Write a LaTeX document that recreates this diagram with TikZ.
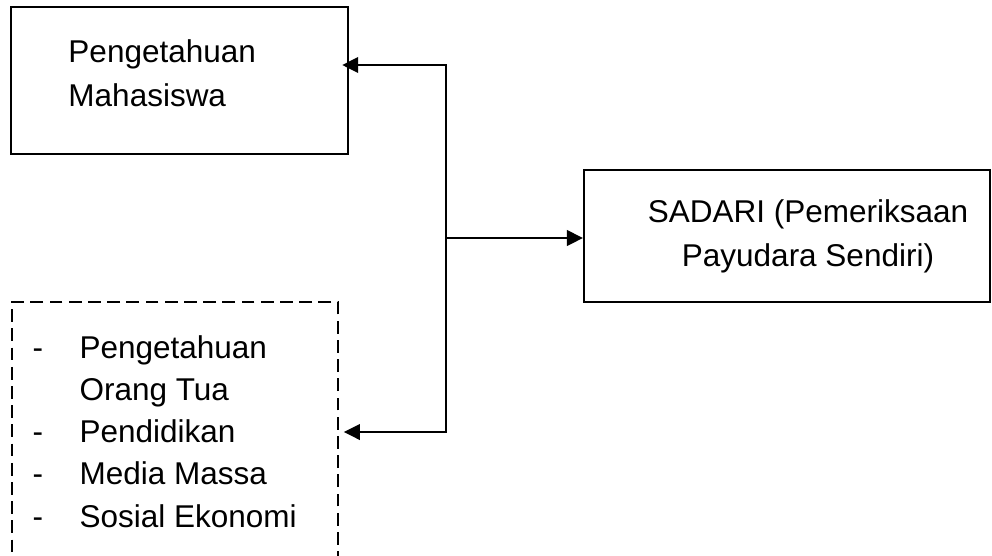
\documentclass[tikz,border=0pt]{standalone}
\usepackage{fontspec}
\setmainfont{Liberation Sans}
\usetikzlibrary{arrows.meta}

\begin{document}
\begin{tikzpicture}[x=0.025cm,y=-0.025cm,>={Triangle[length=4mm,width=3.9mm]},line width=1.4pt,
  box/.style={draw,rectangle,inner sep=0pt},
  txt/.style={font=\fontsize{22.4}{30.6}\selectfont,inner sep=0pt}]
\useasboundingbox (0,0) rectangle (992,555);
% frames
\node[box,minimum width=8.425cm,minimum height=3.675cm] (mhs) at (179.5,80.5) {};
\node[box,minimum width=10.15cm,minimum height=3.3cm] (sadari) at (787,236) {};
\node[box,dash pattern=on 3.2mm off 1.6mm,minimum width=8.15cm,minimum height=8cm,anchor=north west] (faktor) at (11,301) {};
% texts (base = last line)
\node[txt,align=left,anchor=base west] (mhstext) at (67.5,106) {Pengetahuan\\Mahasiswa};
\node[txt,align=center,anchor=base] (sadaritext) at (808,266) {SADARI (Pemeriksaan\\Payudara Sendiri)};
\node[txt,align=left,anchor=base west,font=\fontsize{22.4}{29.9}\selectfont] (faktortext) at (31.6,527)
  {\makebox[1.175cm][l]{-}Pengetahuan\\\makebox[1.175cm][l]{}Orang Tua\\\makebox[1.175cm][l]{-}Pendidikan\\
   \makebox[1.175cm][l]{-}Media Massa\\\makebox[1.175cm][l]{-}Sosial Ekonomi};
% connectors
\coordinate (jtop) at (446,65);
\coordinate (jmid) at (446,238);
\coordinate (jbot) at (446,432);
\draw[<->,shorten <=-0.17cm,shorten >=0.12cm] (jtop -| mhs.east) -- (jtop) -- (jbot) -- (jbot -| faktor.east);
\draw[->] (jmid) -- (jmid -| sadari.west);
\end{tikzpicture}
\end{document}
